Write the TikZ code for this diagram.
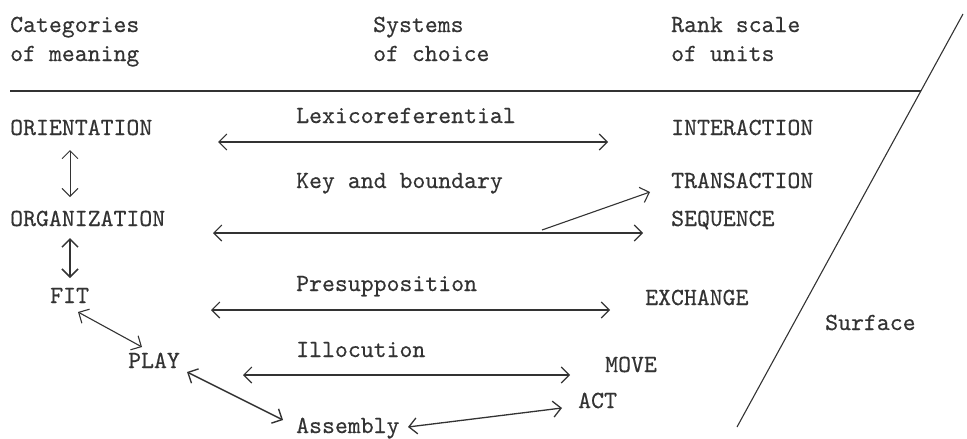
\documentclass[tikz,border=0pt]{standalone}
\usepackage{fontspec}
\newfontfamily\tw{lmmono10-regular.otf}[FakeBold=0.35]
\usetikzlibrary{arrows.meta}
\definecolor{ink}{HTML}{333333}
\tikzset{
  barb/.tip={Straight Barb[length=8pt,width=16pt]},
  lbl/.style={anchor=base west, inner sep=0pt, font=\tw\fontsize{24.6}{28}\selectfont, text=ink},
  link/.style={draw=ink, line width=1.1pt, barb-barb},
  onelink/.style={draw=ink, line width=1.1pt, -barb},
  rule/.style={draw=ink, line width=1.1pt}
}
\begin{document}
\begin{tikzpicture}[x=1pt, y=-1pt]
\useasboundingbox (0,0) rectangle (967,439);

% column headings
\node[lbl] (h1a) at (10,32) {Categories};
\node[lbl] (h1b) at (10,61) {of meaning};
\node[lbl] (h2a) at (373,32) {Systems};
\node[lbl] (h2b) at (373,61) {of choice};
\node[lbl] (h3a) at (671,32) {Rank scale};
\node[lbl] (h3b) at (671,61) {of units};

% heading rule and the surface line
\coordinate (ruleL) at (10,91);
\coordinate (ruleR) at (921,91);
\draw[rule] (ruleL) -- (ruleR);
\coordinate (surfTop) at (963,14);
\coordinate (surfBot) at (737,427);
\draw[rule] (surfTop) -- (surfBot);
\node[lbl] (surface) at (825,330) {Surface};

% categories of meaning
\node[lbl] (orient) at (10,135) {ORIENTATION};
\node[lbl] (organ) at (10,226) {ORGANIZATION};
\node[lbl] (fit) at (50,303) {FIT};
\node[lbl] (play) at (128,368) {PLAY};
\node[lbl] (assembly) at (296,433) {Assembly};

% systems of choice
\node[lbl] (lexico) at (296,123) {Lexicoreferential};
\node[lbl] (keyb) at (296,188) {Key and boundary};
\node[lbl] (presup) at (296,291) {Presupposition};
\node[lbl] (illoc) at (296,357) {Illocution};

% rank scale of units
\node[lbl] (interaction) at (671,135) {INTERACTION};
\node[lbl] (transaction) at (671,188) {TRANSACTION};
\node[lbl] (sequence) at (671,226) {SEQUENCE};
\node[lbl] (exchange) at (645,305) {EXCHANGE};
\node[lbl] (move) at (605,372) {MOVE};
\node[lbl] (act) at (578,408) {ACT};

% links between categories
\coordinate (oA) at (70,150);  \coordinate (oB) at (70,197);
\draw[link, line width=0.9pt] (oA) -- (oB);
\coordinate (gA) at (70,238);  \coordinate (gB) at (70,278);
\draw[link, line width=1.5pt] (gA) -- (gB);
\coordinate (fA) at (78,312);  \coordinate (fB) at (142,347);
\draw[link] (fA) -- (fB);
\coordinate (pA) at (187,372); \coordinate (pB) at (283,420);
\draw[link, line width=1.4pt] (pA) -- (pB);

% systems linking categories and units
\coordinate (lxA) at (218,142); \coordinate (lxB) at (608,142);
\draw[link] (lxA) -- (lxB);
\coordinate (kbA) at (213,233); \coordinate (kbB) at (643,233);
\draw[link] (kbA) -- (kbB);
\coordinate (kbFork) at (542,230); \coordinate (kbT) at (650,192);
\draw[onelink] (kbFork) -- (kbT);
\coordinate (psA) at (211,310); \coordinate (psB) at (610,310);
\draw[link] (psA) -- (psB);
\coordinate (ilA) at (243,375); \coordinate (ilB) at (570,375);
\draw[link] (ilA) -- (ilB);
\coordinate (asA) at (408,427); \coordinate (asB) at (562,408);
\draw[link, line width=1.3pt] (asA) -- (asB);
\end{tikzpicture}
\end{document}
